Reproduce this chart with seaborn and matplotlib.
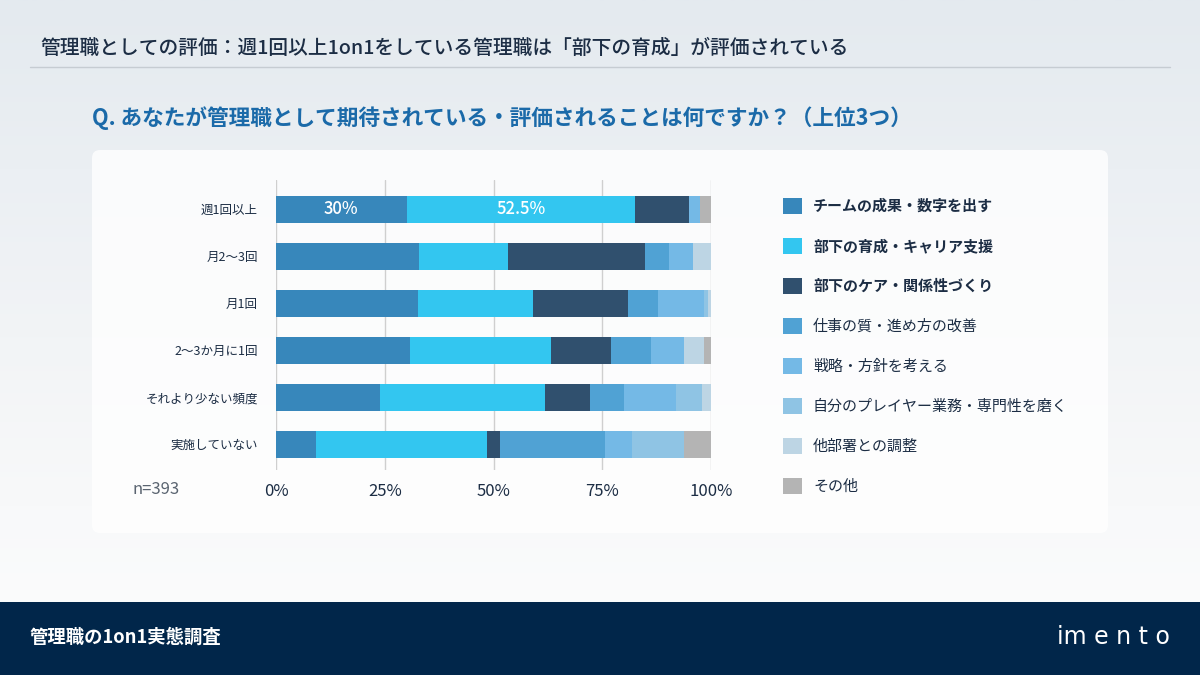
import numpy as np
import pandas as pd
import matplotlib
matplotlib.use("Agg")
import matplotlib.pyplot as plt
import seaborn as sns
from matplotlib.patches import Patch, FancyBboxPatch, Rectangle
from matplotlib.colors import LinearSegmentedColormap

# ---------------- data ----------------
categories = ["週1回以上", "月2〜3回", "月1回", "2〜3か月に1回", "それより少ない頻度", "実施していない"]
series_names = [
    "チームの成果・数字を出す",
    "部下の育成・キャリア支援",
    "部下のケア・関係性づくり",
    "仕事の質・進め方の改善",
    "戦略・方針を考える",
    "自分のプレイヤー業務・専門性を磨く",
    "他部署との調整",
    "その他",
]
team_results = [30.0, 32.9, 32.6, 30.9, 24.0, 9.3]
develop = [52.5, 20.4, 26.4, 32.3, 37.9, 39.3]
care = [12.5, 31.5, 22.0, 13.8, 10.2, 2.9]
quality = [0.0, 5.5, 6.9, 9.2, 7.9, 24.1]
strategy = [2.5, 5.5, 10.6, 7.6, 11.9, 6.2]
player = [0.0, 0.0, 0.7, 0.0, 6.0, 12.0]
coordination = [0.0, 4.2, 0.8, 4.6, 2.1, 0.0]
other = [2.5, 0.0, 0.0, 1.7, 0.0, 6.2]
xticks = [0, 25, 50, 75, 100]
xtick_labels = ["0%", "25%", "50%", "75%", "100%"]
n_label = "n=393"

colors = ["#3787bb", "#33c6f0", "#30506e", "#50a2d4", "#74b9e6", "#8fc4e4", "#bdd5e4", "#b4b4b4"]

df = pd.DataFrame(
    dict(zip(series_names, [team_results, develop, care, quality, strategy, player, coordination, other])),
    index=categories,
)
cum = df.cumsum(axis=1)

# ---------------- style ----------------
sns.set_theme(style="white")
plt.rcParams["font.family"] = ["Noto Sans CJK JP", "DejaVu Sans"]
TXT = "#1c2d44"

fig = plt.figure(figsize=(12, 6.75), dpi=100)

# background / decoration layer in pixel coordinates
bg = fig.add_axes([0, 0, 1, 1])
bg.set_xlim(0, 1200)
bg.set_ylim(675, 0)
bg.axis("off")
grad = np.linspace(0, 1, 256).reshape(-1, 1)
cmap = LinearSegmentedColormap.from_list("bg", ["#e4eaef", "#ebeff3", "#f2f4f6", "#f8f9fa", "#fdfdfd"])
bg.imshow(grad, extent=[0, 1200, 675, 0], cmap=cmap, aspect="auto", zorder=0)
bg.add_patch(FancyBboxPatch((92, 150), 1016, 383, boxstyle="round,pad=0,rounding_size=8",
                            fc="white", ec="#ffffff", alpha=0.78, lw=0, zorder=1))
bg.add_patch(Rectangle((0, 602), 1200, 73, fc="#01264a", ec="none", zorder=1))
bg.plot([30, 1170], [67, 67], color="#c6ccd2", lw=1, zorder=2)

bg.text(40, 48, "管理職としての評価：週1回以上1on1をしている管理職は「部下の育成」が評価されている",
        fontsize=14.2, color=TXT, va="center", ha="left", fontweight="medium", zorder=3)
bg.text(92, 118, "Q. あなたが管理職として期待されている・評価されることは何ですか？（上位3つ）",
        fontsize=15.6, color="#1b6aa9", va="center", ha="left", fontweight="bold", zorder=3)
bg.text(30, 637, "管理職の1on1実態調査", fontsize=13.2, color="white", va="center", ha="left",
        fontweight="bold", zorder=3)
bg.text(1170, 637, "im e n t o", fontsize=17, color="#ffffff", va="center", ha="right",
        family=["DejaVu Sans"], fontweight="normal", zorder=3)
bg.text(132, 489, n_label, fontsize=12, color="#5a6470", va="center", ha="left", zorder=3)

# ---------------- main chart ----------------
ax = fig.add_axes([276 / 1200, 205 / 675, 435 / 1200, 290 / 675])
ax.set_facecolor("none")
for name, col in reversed(list(zip(series_names, colors))):
    sns.barplot(x=cum[name].values, y=categories, order=categories, color=col, saturation=1,
                orient="h", width=0.58, errorbar=None, ax=ax, linewidth=0, zorder=2)

ax.set_xlim(0, 100)
ax.set_ylim(5.55, -0.62)
ax.set_xticks(xticks)
ax.set_xticklabels(xtick_labels)
ax.tick_params(axis="x", length=0, pad=9, labelsize=12, labelcolor=TXT)
ax.tick_params(axis="y", length=0, pad=13, labelsize=9, labelcolor=TXT)
ax.grid(axis="x", color="#cfcfcf", lw=1)
ax.grid(axis="y", visible=False)
ax.set_axisbelow(True)
for s in ax.spines.values():
    s.set_visible(False)
ax.set_xlabel("")
ax.set_ylabel("")

# value labels on first row
ax.text(team_results[0] / 2, 0, f"{team_results[0]:g}%", color="white", fontsize=12,
        ha="center", va="center", fontweight="medium", zorder=5)
ax.text(team_results[0] + develop[0] / 2, 0, f"{develop[0]:g}%", color="white", fontsize=12,
        ha="center", va="center", fontweight="medium", zorder=5)

# ---------------- legend ----------------
handles = [Patch(facecolor=c, edgecolor="none") for c in colors]
leg = fig.legend(handles, series_names, loc="upper left", bbox_to_anchor=(783 / 1200, 1 - 198 / 675),
                 frameon=False, fontsize=10.8, handlelength=1.25, handleheight=1.25,
                 handletextpad=0.75, labelspacing=1.6, borderaxespad=0, borderpad=0)
for i, t in enumerate(leg.get_texts()):
    t.set_color(TXT)
    if i < 3:
        t.set_fontweight("bold")

fig.savefig("out.png", dpi=100)
